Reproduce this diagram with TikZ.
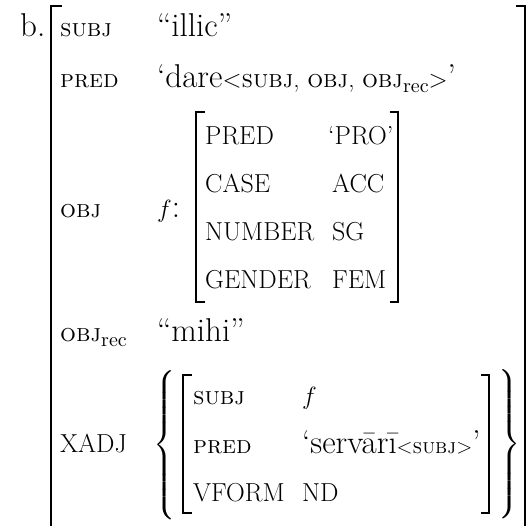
\documentclass[tikz,border=0pt]{standalone}
\usepackage{fontspec}
\usepackage{amsmath}
\usepackage{graphicx}
\usetikzlibrary{positioning}
\newcommand{\kattr}[1]{{\fontsize{25}{30}\selectfont\textsc{#1}}}
\newcommand{\kcap}[1]{{\fontsize{26}{30}\selectfont #1}}
\newcommand{\ksub}[1]{\raisebox{-5pt}{\scalebox{2.0}{\fontsize{10}{12}\selectfont #1}}}
\newcommand{\tallbrace}[2]{$\left#1\vcenter{\hbox{\rule{0pt}{#2}}}\right.$}
\newcommand{\tallbraceR}[2]{$\left.\vcenter{\hbox{\rule{0pt}{#2}}}\right#1$}

\begin{document}
\begin{tikzpicture}[x=1pt, y=-1pt, font=\fontsize{33}{38}\selectfont,
  key/.style={anchor=base west, inner sep=0pt},
  val/.style={anchor=base west, inner sep=0pt},
  brk/.style={line width=1.8pt, line cap=rect}]
\useasboundingbox (0,0) rectangle (528,526);
\node[val] (lbl) at (20,37) {b.};
% outer f-structure
\node[key] (subj) at (60,37) {\kattr{subj}};
\node[val] (illic) at (157,37) {“illic”};
\node[key] (pred) at (60,88) {\kattr{pred}};
\node[val] (dare) at (157,88) {‘dare{\fontsize{25}{30}\selectfont<\textsc{subj}, \textsc{obj}, \textsc{obj}\ksub{rec}>}’};
\node[key] (obj) at (60,218) {\kattr{obj}};
\node[val] (fobj) at (157,218) {$f$:};
\node[key] (objrec) at (60,342) {\kattr{obj}\ksub{rec}};
\node[val] (mihi) at (157,342) {“mihi”};
\node[key] (xadj) at (60,453) {\kcap{XADJ}};
% OBJ f-structure
\node[key] (ipred) at (205,145) {\kcap{PRED}};
\node[key] (icase) at (205,193) {\kcap{CASE}};
\node[key] (inum) at (205,241) {\kcap{NUMBER}};
\node[key] (igen) at (205,289) {\kcap{GENDER}};
\node[key] (vpro) at (328,145) {\kcap{‘PRO’}};
\node[key] (vacc) at (332,193) {\kcap{ACC}};
\node[key] (vsg) at (332,241) {\kcap{SG}};
\node[key] (vfem) at (332,289) {\kcap{FEM}};
% XADJ f-structure
\node[key] (xsubj) at (193,405) {\kattr{subj}};
\node[key] (xpred) at (193,454) {\kattr{pred}};
\node[key] (xvform) at (193,502) {\kcap{VFORM}};
\node[val] (xf) at (302,405) {$f$};
\node[val] (serv) at (302,454) {‘servārī{\fontsize{21}{25}\selectfont<\textsc{subj}>}’};
\node[key] (xnd) at (302,502) {\kcap{ND}};
% brackets
\draw[brk] (61,6) -- (51,6) -- (51,540);
\draw[brk] (517,6) -- (525,6) -- (525,540);
\draw[brk] (204,112) -- (196,112) -- (196,302) -- (204,302);
\draw[brk] (391,112) -- (398,112) -- (398,302) -- (391,302);
\draw[brk] (191,375) -- (183,375) -- (183,513) -- (191,513);
\draw[brk] (482,375) -- (489,375) -- (489,513) -- (482,513);
% braces
\node[inner sep=0pt] (lbrace) at (165,445) {\tallbrace{\{}{150pt}};
\node[inner sep=0pt] (rbrace) at (509,444) {\tallbraceR{\}}{150pt}};
\end{tikzpicture}
\end{document}
